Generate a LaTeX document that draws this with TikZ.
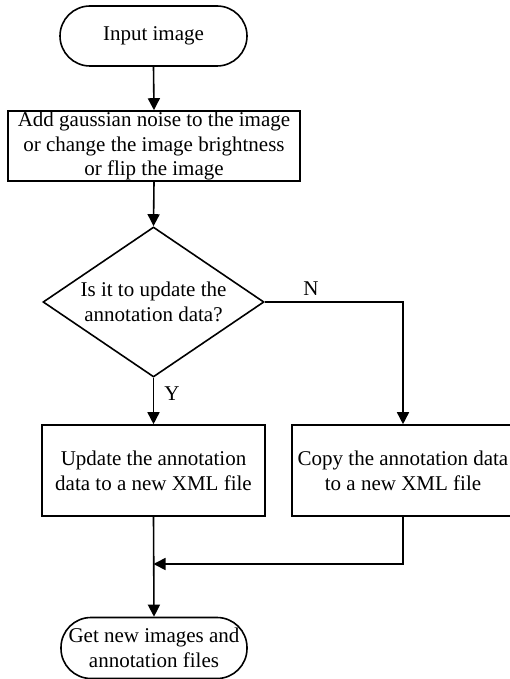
\documentclass[tikz,border=0pt]{standalone}
\usepackage{fontspec}
\setmainfont{Liberation Serif}
\usetikzlibrary{shapes.geometric,arrows.meta}
\begin{document}
\begin{tikzpicture}[x=1pt,y=-1pt,
  every node/.style={font=\fontsize{21}{24.8}\selectfont, inner sep=0pt},
  term/.style={draw, line width=1.6pt, rectangle, rounded corners=30pt, align=center, minimum height=60pt},
  procbox/.style={draw, line width=1.6pt, rectangle, align=center},
  decide/.style={draw, line width=1.6pt, diamond, align=center, aspect=1.47, minimum width=221pt, minimum height=150pt},
  conn/.style={line width=1.6pt, -{Triangle[length=12pt,width=12pt]}},
  plain/.style={line width=1.6pt}]
\useasboundingbox (0,0) rectangle (510,679);
\node[term, minimum width=187pt] (in) at (153.5,36) {Input image};
\node[procbox, minimum width=292pt, minimum height=70pt] (b1) at (154,146) {Add gaussian noise to the image\\or change the image brightness\\or flip the image};
\node[decide] (dia) at (153.5,302) {Is it to update the\\annotation data?};
\node[procbox, minimum width=223pt, minimum height=91pt] (b2) at (153.5,470.5) {Update the annotation\\data to a new XML file};
\node[procbox, minimum width=222pt, minimum height=91pt] (b3) at (403,470.5) {Copy the annotation data\\to a new XML file};
\node[term, minimum width=186pt, minimum height=61pt] (out) at (154,648) {Get new images and\\annotation files};
\coordinate (m) at (153.5,564);
\node (nl) at (311,289) {N};
\node (yl) at (172,394) {Y};
\draw[conn] (in.south) -- (b1.north);
\draw[conn] (b1.south) -- (dia.north);
\draw[conn] (dia.east) -| (b3.north);
\draw[conn] (dia.south) -- (b2.north);
\draw[conn] (b2.south) -- (out.north);
\draw[conn] (b3.south) |- (m);
\end{tikzpicture}
\end{document}
